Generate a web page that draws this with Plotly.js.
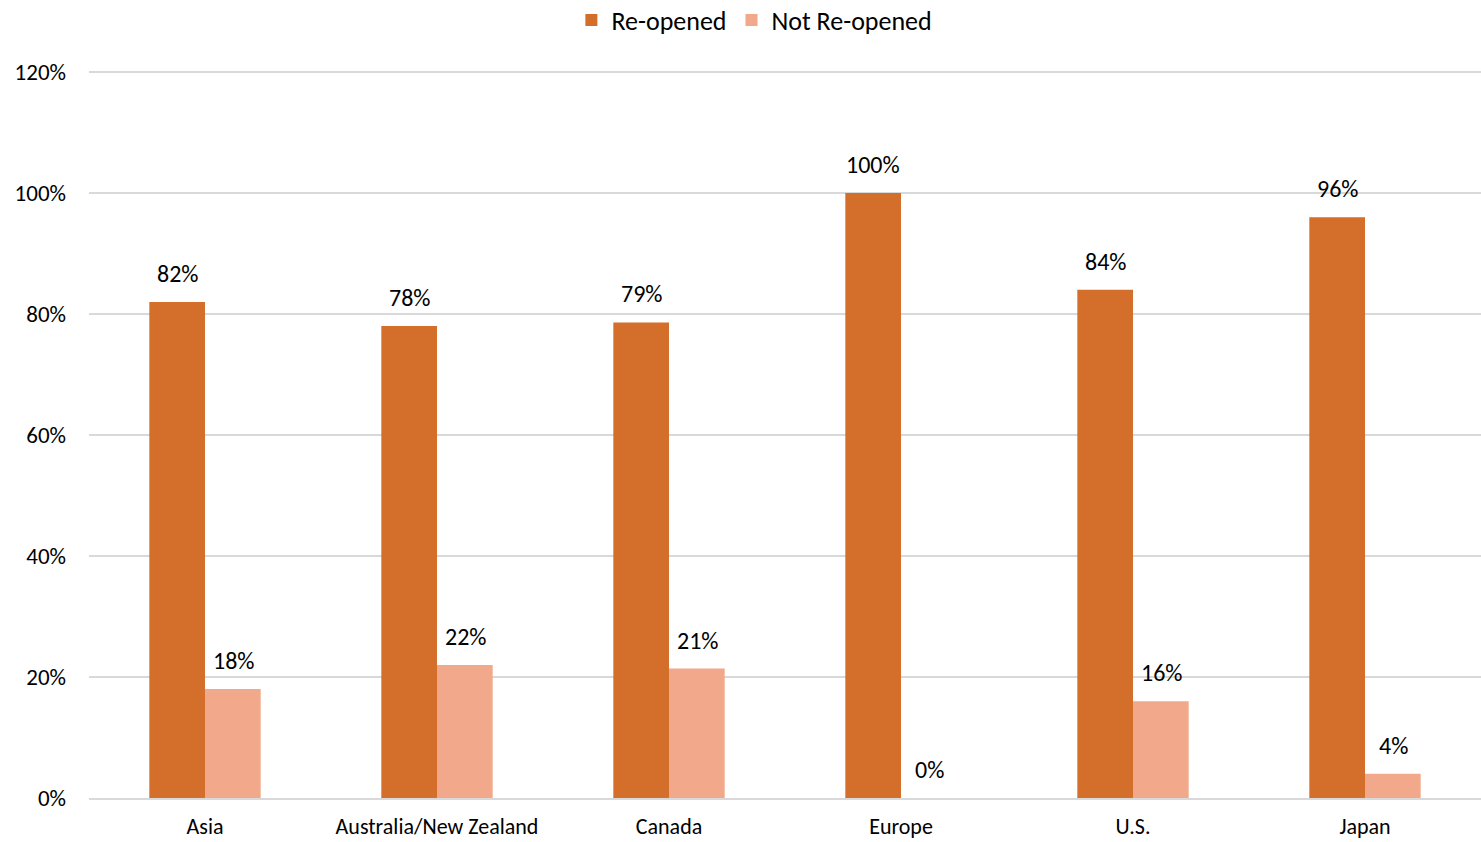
<!DOCTYPE html>
<html>
<head>
<meta charset="utf-8">
<script src="https://cdn.plot.ly/plotly-3.0.1.min.js"></script>
<style>html,body{margin:0;padding:0;background:#fff;}#chart{width:1481px;height:842px;}</style>
</head>
<body>
<div id="chart"></div>
<script>
const categories = ["Asia", "Australia/New Zealand", "Canada", "Europe", "U.S.", "Japan"];
const reopened = [82, 78, 78.6, 100, 84, 96];
const notReopened = [18, 22, 21.4, 0, 16, 4];
const seriesNames = ["Re-opened", "Not Re-opened"];
const yTicks = [0, 20, 40, 60, 80, 100, 120];

const fam = "Carlito, Calibri, Lato, 'Open Sans', sans-serif";

const traces = [
  {type: "bar", name: seriesNames[0], x: categories, y: reopened,
   marker: {color: "#D46E2B"}, hoverinfo: "skip"},
  {type: "bar", name: seriesNames[1], x: categories, y: notReopened,
   marker: {color: "#F2A88A"}, hoverinfo: "skip"}
];

// data labels built from the series arrays
const annotations = [];
[reopened, notReopened].forEach((vals, s) => {
  vals.forEach((v, i) => {
    annotations.push({
      x: categories[i], y: v, xref: "x", yref: "y",
      text: Math.round(v) + "%", showarrow: false,
      xshift: s === 0 ? -28 : 28, yanchor: "bottom", yshift: 12,
      font: {family: fam, size: 24, color: "#000"}
    });
  });
});

const layout = {
  width: 1481, height: 842,
  margin: {l: 89, r: 0, t: 69, b: 44, autoexpand: false},
  paper_bgcolor: "#fff", plot_bgcolor: "#fff",
  font: {family: fam, size: 20, color: "#000"},
  barmode: "group", bargap: 0.52, bargroupgap: 0,
  showlegend: true,
  legend: {orientation: "h", x: 0.478, xanchor: "center", yref: "container", y: 0.976, yanchor: "middle",
           font: {family: fam, size: 26, color: "#000"}, traceorder: "normal"},
  annotations: annotations,
  xaxis: {tickfont: {family: fam, size: 22, color: "#000"}, showgrid: false,
          showline: true, linecolor: "#d9d9d9", linewidth: 2, ticks: "",
          ticklabelstandoff: 8, fixedrange: true, automargin: false},
  yaxis: {range: [0, 120.5], tickvals: yTicks, ticktext: yTicks.map(v => v + "%"),
          tickfont: {family: fam, size: 23, color: "#000"},
          showgrid: true, gridcolor: "#d9d9d9", gridwidth: 2, zeroline: false,
          showline: false, ticks: "", ticklabelstandoff: 22, fixedrange: true, automargin: false}
};

Plotly.newPlot("chart", traces, layout, {staticPlot: true, displayModeBar: false});
</script>
</body>
</html>
